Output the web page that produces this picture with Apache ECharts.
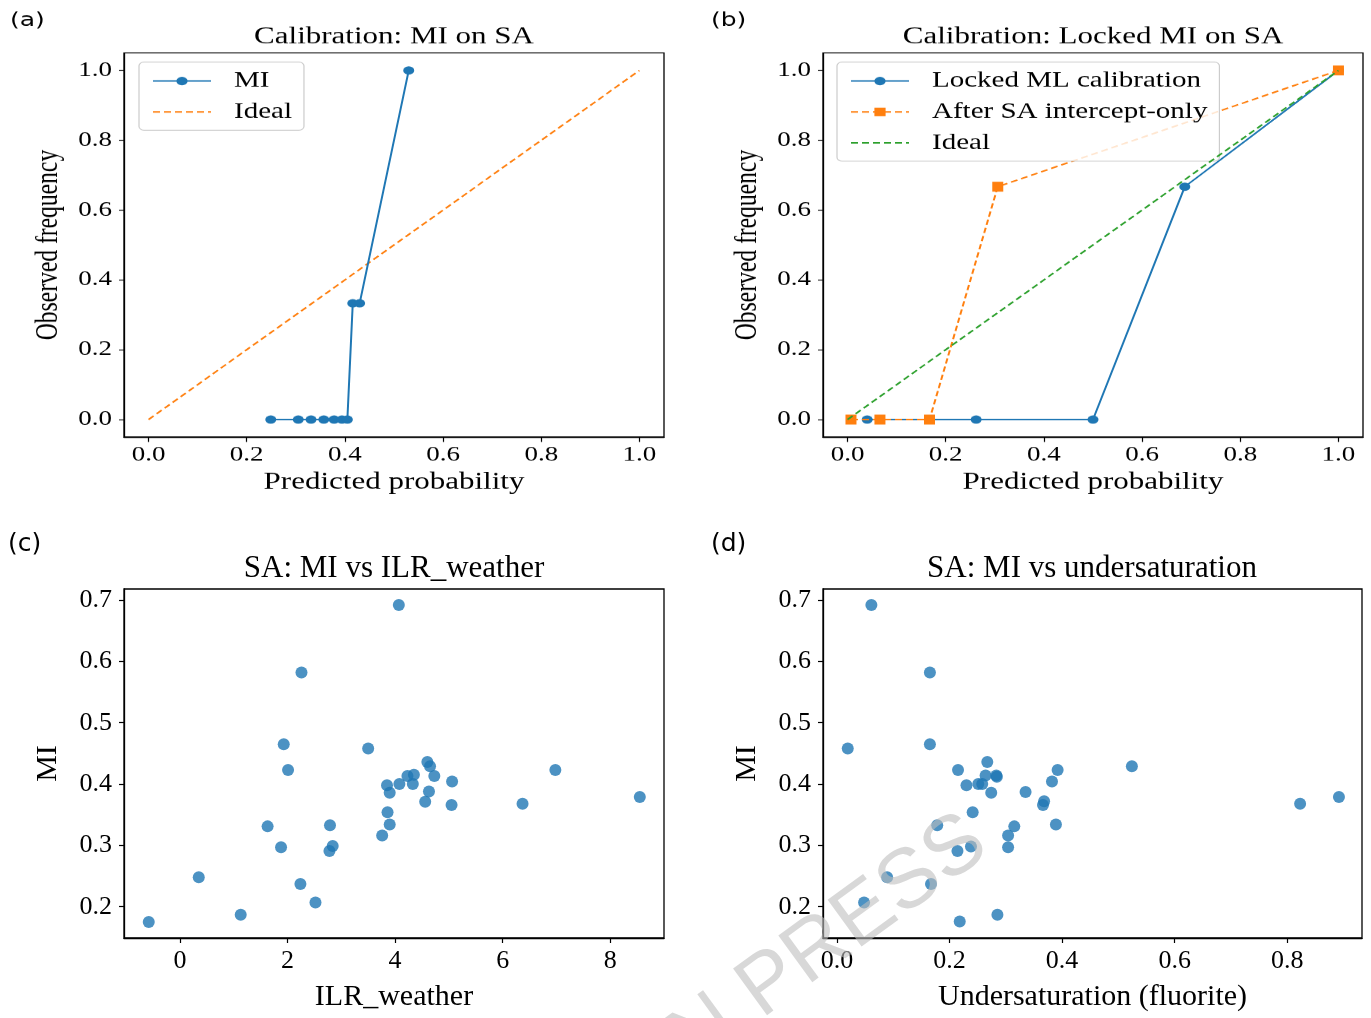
<!DOCTYPE html>
<html><head><meta charset="utf-8">
<script src="https://cdn.jsdelivr.net/npm/echarts@6/dist/echarts.min.js"></script>
<style>
html,body{margin:0;padding:0;background:#fff;width:1371px;height:1018px;overflow:hidden;position:relative}
#top{position:absolute;left:0;top:0;width:1371px;height:671px;transform:scaleY(0.76);transform-origin:0 0}
#bot{position:absolute;left:0;top:510px;width:1371px;height:508px}
</style></head>
<body><div id="top"></div><div id="bot"></div>
<script>
// ---------- data ----------
const aPred = [0.249, 0.305, 0.331, 0.357, 0.378, 0.394, 0.405, 0.416, 0.430, 0.530];
const aObs  = [0, 0, 0, 0, 0, 0, 0, 0.333, 0.333, 1.0];
const idealX = [0, 1];
const idealY = [0, 1];
const bLockedPred = [0.040, 0.262, 0.500, 0.687, 1.0];
const bLockedObs  = [0, 0, 0, 0.667, 1.0];
const bAfterPred  = [0.007, 0.066, 0.167, 0.306, 1.0];
const bAfterObs   = [0, 0, 0, 0.667, 1.0];
const cILR = [4.07, 2.26, 1.93, 3.50, 2.01, 6.98, 4.60, 4.65, 4.23, 4.35, 4.73, 5.06, 3.85, 4.08, 4.33, 3.90, 4.63,
              4.56, 5.05, 6.37, 8.55, 3.86, 1.63, 2.79, 3.90, 3.76, 1.88, 2.84, 2.78, 0.35, 2.24, 2.52, 1.13, -0.58];
const cMI  = [0.692, 0.582, 0.465, 0.458, 0.423, 0.423, 0.436, 0.429, 0.413, 0.415, 0.413, 0.404, 0.398, 0.400, 0.400, 0.386, 0.388,
              0.371, 0.366, 0.368, 0.379, 0.354, 0.331, 0.333, 0.334, 0.316, 0.297, 0.299, 0.291, 0.248, 0.237, 0.207, 0.187, 0.175];
const dUnder = [0.061, 0.165, 0.019, 0.165, 0.215, 0.267, 0.264, 0.283, 0.284, 0.392, 0.524, 0.382, 0.230, 0.251, 0.258, 0.274, 0.335,
                0.368, 0.366, 0.823, 0.892, 0.241, 0.178, 0.315, 0.389, 0.304, 0.238, 0.214, 0.304, 0.089, 0.167, 0.048, 0.285, 0.218];
const dMI    = [0.692, 0.582, 0.458, 0.465, 0.423, 0.436, 0.414, 0.414, 0.412, 0.423, 0.429, 0.404, 0.398, 0.400, 0.400, 0.386, 0.387,
                0.372, 0.366, 0.368, 0.379, 0.354, 0.333, 0.331, 0.334, 0.316, 0.298, 0.291, 0.297, 0.248, 0.237, 0.207, 0.187, 0.176];
const probTicks  = [0, 0.2, 0.4, 0.6, 0.8, 1.0];
const miTicks    = [0.2, 0.3, 0.4, 0.5, 0.6, 0.7];
const ilrTicks   = [0, 2, 4, 6, 8];
const underTicks = [0, 0.2, 0.4, 0.6, 0.8];

// ---------- helpers ----------
const SERIF = 'Liberation Serif';
const zip = (xs, ys) => xs.map((x, i) => [x, ys[i]]);
const BLUE = '#1f77b4', ORANGE = '#ff7f0e', GREEN = '#2ca02c';

function axis(gi, min, max, ticks, fmt, name, nameGap, labelSize, nameSize, tickLen, margin) {
  return {
    gridIndex: gi, type: 'value', min: min, max: max,
    splitLine: { show: false },
    axisLine: { show: true, onZero: false, lineStyle: { color: '#000', width: 1.3 } },
    axisTick: { show: true, customValues: ticks, length: tickLen, lineStyle: { color: '#000', width: 1.2 } },
    axisLabel: {
      customValues: ticks, formatter: v => '{t|' + fmt(v) + '}', margin: margin,
      color: '#000', fontFamily: SERIF, fontSize: labelSize,
      rich: { t: { color: '#000', fontFamily: SERIF, fontSize: labelSize } }
    },
    name: name, nameLocation: 'middle', nameGap: nameGap,
    nameTextStyle: { color: '#000', fontFamily: SERIF, fontSize: nameSize }
  };
}
const f1 = v => Number(v).toFixed(1);
const f0 = v => String(Math.round(v));

// ---------- top row (squashed vertically, like the reference) ----------
const topChart = echarts.init(document.getElementById('top'), null, { renderer: 'canvas' });
const gridTop = 69.7, gridH = 505.3;
const legendCommon = {
  orient: 'vertical', itemWidth: 58, itemHeight: 14, itemGap: 10.7,
  padding: [10, 12, 9, 13], backgroundColor: 'rgba(255,255,255,0.8)',
  borderColor: '#cccccc', borderWidth: 1.2, borderRadius: 5, selectedMode: false,
  textStyle: { fontFamily: SERIF, fontSize: 29, color: '#000', padding: [0, 0, 0, 18], lineHeight: 30 }
};
const noMarker = { opacity: 0 };
topChart.setOption({
  animation: false,
  textStyle: { fontFamily: SERIF },
  grid: [
    { left: 124, top: gridTop, width: 540, height: gridH, show: true, borderColor: '#000', borderWidth: 1.3, backgroundColor: 'transparent' },
    { left: 823, top: gridTop, width: 540, height: gridH, show: true, borderColor: '#000', borderWidth: 1.3, backgroundColor: 'transparent' }
  ],
  xAxis: [
    axis(0, -0.05, 1.05, probTicks, f1, 'Predicted probability', 44, 27, 31, 6.5, 10),
    axis(1, -0.05, 1.05, probTicks, f1, 'Predicted probability', 44, 27, 31, 6.5, 10)
  ],
  yAxis: [
    axis(0, -0.05, 1.05, probTicks, f1, 'Observed frequency', 60, 27, 31, 5, 12),
    axis(1, -0.05, 1.05, probTicks, f1, 'Observed frequency', 60, 27, 31, 5, 12)
  ],
  legend: [
    Object.assign({}, legendCommon, { left: 139, top: 81.6, data: ['MI', { name: 'Ideal', itemStyle: noMarker }] }),
    Object.assign({}, legendCommon, { left: 837, top: 81.6, data: ['Locked ML calibration', 'After SA intercept-only', { name: 'Ideal ', itemStyle: noMarker }] })
  ],
  series: [
    { type: 'line', name: 'MI', xAxisIndex: 0, yAxisIndex: 0, data: zip(aPred, aObs),
      symbol: 'circle', symbolSize: 11, color: BLUE, itemStyle: { color: BLUE },
      lineStyle: { color: BLUE, width: 2 }, z: 3 },
    { type: 'line', name: 'Ideal', xAxisIndex: 0, yAxisIndex: 0, data: zip(idealX, idealY),
      symbol: 'none', color: ORANGE, itemStyle: { color: ORANGE },
      lineStyle: { color: ORANGE, width: 2, type: [7, 4] }, z: 2 },
    { type: 'line', name: 'Locked ML calibration', xAxisIndex: 1, yAxisIndex: 1, data: zip(bLockedPred, bLockedObs),
      symbol: 'circle', symbolSize: 11, color: BLUE, itemStyle: { color: BLUE },
      lineStyle: { color: BLUE, width: 2 }, z: 2 },
    { type: 'line', name: 'After SA intercept-only', xAxisIndex: 1, yAxisIndex: 1, data: zip(bAfterPred, bAfterObs),
      symbol: 'rect', symbolSize: [11, 13], color: ORANGE, itemStyle: { color: ORANGE },
      lineStyle: { color: ORANGE, width: 2, type: [7, 4] }, z: 3 },
    { type: 'line', name: 'Ideal ', xAxisIndex: 1, yAxisIndex: 1, data: zip(idealX, idealY),
      symbol: 'none', color: GREEN, itemStyle: { color: GREEN },
      lineStyle: { color: GREEN, width: 2, type: [7, 4] }, z: 4 }
  ],
  graphic: [
    { type: 'text', x: 394, y: 48.7, style: { text: 'Calibration: MI on SA', fontFamily: SERIF, fontSize: 31, fill: '#000', textAlign: 'center', textVerticalAlign: 'middle' } },
    { type: 'text', x: 1093, y: 48.7, style: { text: 'Calibration: Locked MI on SA', fontFamily: SERIF, fontSize: 31, fill: '#000', textAlign: 'center', textVerticalAlign: 'middle' } },
    { type: 'text', x: 10, y: 27, style: { text: '(a)', fontFamily: 'DejaVu Sans', fontSize: 25, fill: '#000', textAlign: 'left', textVerticalAlign: 'middle' } },
    { type: 'text', x: 711, y: 27, style: { text: '(b)', fontFamily: 'DejaVu Sans', fontSize: 25, fill: '#000', textAlign: 'left', textVerticalAlign: 'middle' } }
  ]
});

// ---------- bottom row ----------
const botChart = echarts.init(document.getElementById('bot'), null, { renderer: 'canvas' });
const bTop = 79, bH = 349;
botChart.setOption({
  animation: false,
  textStyle: { fontFamily: SERIF },
  grid: [
    { left: 124, top: bTop, width: 540, height: bH, show: true, borderColor: '#000', borderWidth: 1.3, backgroundColor: 'transparent' },
    { left: 823, top: bTop, width: 539, height: bH, show: true, borderColor: '#000', borderWidth: 1.3, backgroundColor: 'transparent' }
  ],
  xAxis: [
    axis(0, -1.04, 9.0, ilrTicks, f0, 'ILR_weather', 44, 26, 30, 5, 10),
    axis(1, -0.025, 0.933, underTicks, f1, 'Undersaturation (fluorite)', 44, 26, 30, 5, 10)
  ],
  yAxis: [
    axis(0, 0.149, 0.718, miTicks, f1, 'MI', 61, 26, 30, 5, 12),
    axis(1, 0.149, 0.718, miTicks, f1, 'MI', 61, 26, 30, 5, 12)
  ],
  series: [
    { type: 'scatter', xAxisIndex: 0, yAxisIndex: 0, data: zip(cILR, cMI), symbol: 'circle', symbolSize: 12,
      itemStyle: { color: BLUE, opacity: 0.8 } },
    { type: 'scatter', xAxisIndex: 1, yAxisIndex: 1, data: zip(dUnder, dMI), symbol: 'circle', symbolSize: 12,
      itemStyle: { color: BLUE, opacity: 0.8 } }
  ],
  graphic: [
    { type: 'text', x: 394, y: 59, style: { text: 'SA: MI vs ILR_weather', fontFamily: SERIF, fontSize: 31, fill: '#000', textAlign: 'center', textVerticalAlign: 'middle' } },
    { type: 'text', x: 1092, y: 59, style: { text: 'SA: MI vs undersaturation', fontFamily: SERIF, fontSize: 31, fill: '#000', textAlign: 'center', textVerticalAlign: 'middle' } },
    { type: 'text', x: 8, y: 34, style: { text: '(c)', fontFamily: 'DejaVu Sans', fontSize: 25, fill: '#000', textAlign: 'left', textVerticalAlign: 'middle' } },
    { type: 'text', x: 711, y: 34, style: { text: '(d)', fontFamily: 'DejaVu Sans', fontSize: 25, fill: '#000', textAlign: 'left', textVerticalAlign: 'middle' } },
    { type: 'text', x: 1003, y: 357, rotation: 36 * Math.PI / 180, z: 100,
      style: { text: 'ARTICLE IN PRESS', fontFamily: 'Liberation Sans', fontSize: 84, fill: 'rgba(190,190,190,0.6)', textAlign: 'right', textVerticalAlign: 'bottom' } }
  ]
});
</script></body></html>
